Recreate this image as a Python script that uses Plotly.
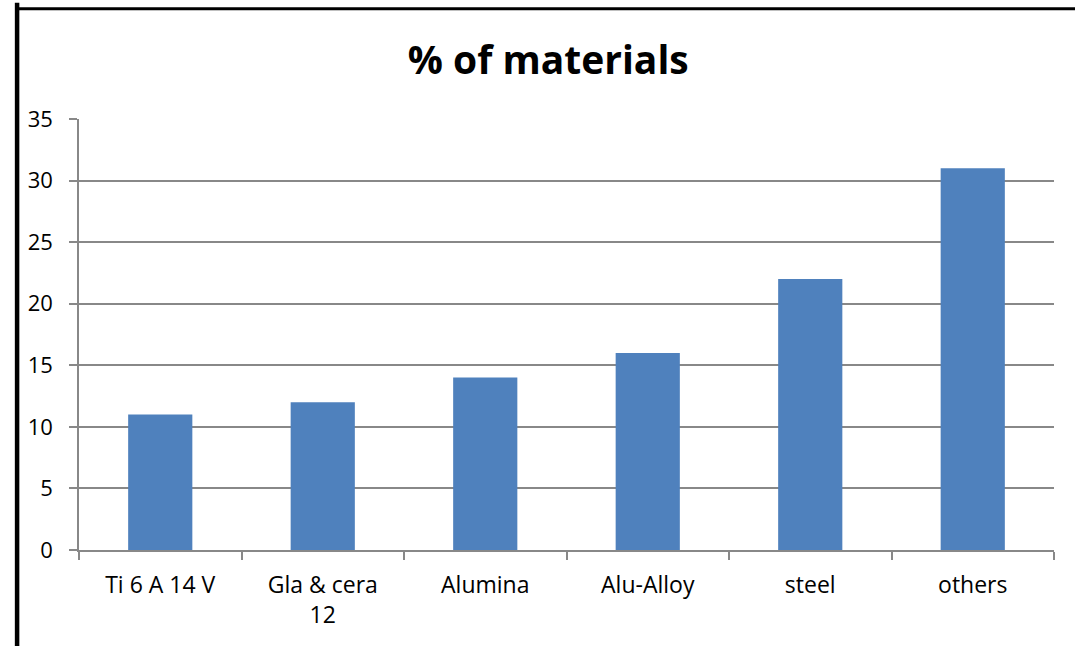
import plotly.graph_objects as go

categories = ["Ti 6 A 14 V", "Gla & cera<br>12", "Alumina", "Alu-Alloy", "steel", "others"]
percent = [11, 12, 14, 16, 22, 31]
y_ticks = [0, 5, 10, 15, 20, 25, 30, 35]

bar_color = "#4F81BD"
grid_color = "#888888"
font_family = "Open Sans, Liberation Sans, sans-serif"

fig = go.Figure(
    go.Bar(
        x=categories,
        y=percent,
        marker=dict(color=bar_color, line=dict(width=0)),
        width=0.395,
    )
)

fig.update_layout(
    width=1075,
    height=646,
    margin=dict(l=79, r=21, t=119, b=96),
    paper_bgcolor="white",
    plot_bgcolor="white",
    showlegend=False,
    font=dict(family=font_family, color="black", size=22),
    title=dict(
        text="<b>% of materials</b>",
        x=0.51,
        xanchor="center",
        y=0.907,
        yanchor="middle",
        font=dict(family=font_family, size=39, color="black"),
    ),
    shapes=[
        # frame edges along the left and top of the page
        dict(type="line", xref="paper", yref="paper", x0=-0.0635, x1=-0.0635, y0=-0.3, y1=1.27,
             line=dict(color="black", width=4.5)),
        dict(type="line", xref="paper", yref="paper", x0=-0.065, x1=1.03, y0=1.256, y1=1.256,
             line=dict(color="black", width=3)),
    ],
)

fig.update_yaxes(
    range=[0, 35],
    tickvals=y_ticks,
    showgrid=True,
    gridcolor=grid_color,
    gridwidth=1.6,
    zeroline=False,
    showline=True,
    linecolor=grid_color,
    linewidth=1.6,
    ticks="outside",
    ticklen=8,
    tickcolor=grid_color,
    tickwidth=1.6,
    ticklabelstandoff=12,
    tickfont=dict(size=22),
    fixedrange=True,
)

fig.update_xaxes(
    showgrid=False,
    showline=True,
    linecolor=grid_color,
    linewidth=1.6,
    ticks="outside",
    tickson="boundaries",
    ticklen=8,
    tickcolor=grid_color,
    tickwidth=1.6,
    tickfont=dict(size=23),
    ticklabelstandoff=14,
    mirror=False,
    fixedrange=True,
)

fig.write_html("out.html")
